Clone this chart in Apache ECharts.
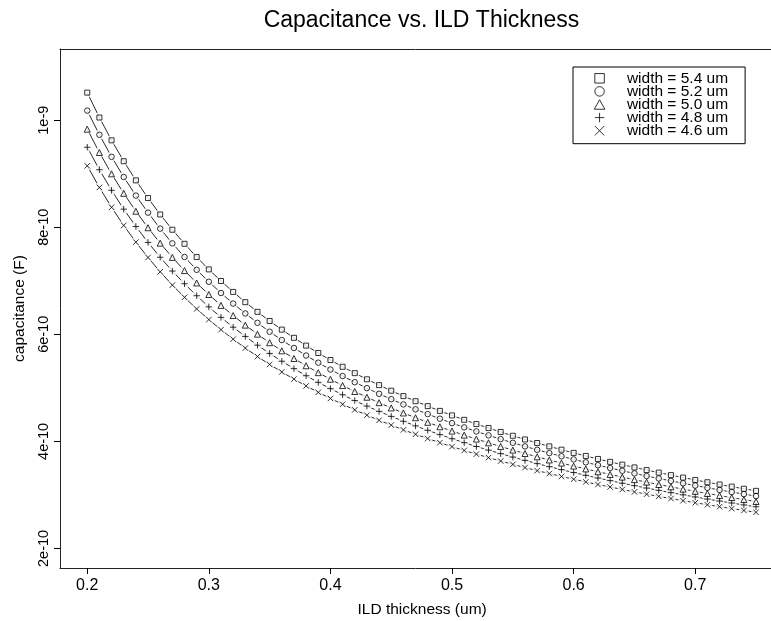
<!DOCTYPE html>
<html><head><meta charset="utf-8">
<script src="https://cdn.jsdelivr.net/npm/echarts@6/dist/echarts.min.js"></script>
<style>html,body{margin:0;padding:0;background:#fff}#c{width:771px;height:621px}</style>
</head><body><div id="c"></div>
<script>
// ILD thickness (um)
const thickness = [0.20,0.21,0.22,0.23,0.24,0.25,0.26,0.27,0.28,0.29,
  0.30,0.31,0.32,0.33,0.34,0.35,0.36,0.37,0.38,0.39,
  0.40,0.41,0.42,0.43,0.44,0.45,0.46,0.47,0.48,0.49,
  0.50,0.51,0.52,0.53,0.54,0.55,0.56,0.57,0.58,0.59,
  0.60,0.61,0.62,0.63,0.64,0.65,0.66,0.67,0.68,0.69,
  0.70,0.71,0.72,0.73,0.74,0.75];
// capacitance, in units of 1e-10 F
const cap54 = [10.515,10.050,9.624,9.234,8.876,8.546,8.239,7.954,7.691,7.443,
  7.213,6.996,6.792,6.601,6.420,6.249,6.088,5.935,5.789,5.651,
  5.520,5.394,5.275,5.160,5.051,4.947,4.846,4.751,4.659,4.570,
  4.485,4.403,4.324,4.249,4.176,4.105,4.036,3.970,3.907,3.845,
  3.785,3.728,3.672,3.618,3.565,3.514,3.464,3.417,3.370,3.324,
  3.280,3.237,3.195,3.155,3.115,3.076];
const cap52 = [10.179,9.728,9.316,8.939,8.592,8.273,7.975,7.699,7.445,7.205,
  6.982,6.772,6.575,6.390,6.215,6.049,5.893,5.745,5.604,5.470,
  5.343,5.221,5.106,4.995,4.889,4.789,4.691,4.599,4.510,4.424,
  4.341,4.262,4.186,4.113,4.042,3.974,3.907,3.843,3.782,3.722,
  3.664,3.609,3.555,3.502,3.451,3.402,3.353,3.308,3.262,3.218,
  3.175,3.133,3.093,3.054,3.015,2.978];
const cap50 = [9.832,9.397,8.998,8.634,8.299,7.991,7.703,7.437,7.191,6.959,
  6.744,6.541,6.351,6.172,6.003,5.843,5.692,5.549,5.413,5.284,
  5.161,5.043,4.932,4.825,4.723,4.625,4.531,4.442,4.356,4.273,
  4.193,4.117,4.043,3.973,3.905,3.838,3.774,3.712,3.653,3.595,
  3.539,3.486,3.433,3.383,3.333,3.286,3.239,3.195,3.151,3.108,
  3.067,3.027,2.987,2.950,2.913,2.876];
const cap48 = [9.495,9.075,8.690,8.338,8.015,7.717,7.440,7.182,6.945,6.721,
  6.513,6.317,6.133,5.961,5.797,5.643,5.497,5.359,5.227,5.103,
  4.985,4.871,4.763,4.659,4.561,4.467,4.376,4.290,4.207,4.127,
  4.050,3.976,3.905,3.837,3.771,3.707,3.645,3.585,3.528,3.472,
  3.418,3.366,3.316,3.267,3.219,3.173,3.128,3.086,3.043,3.002,
  2.962,2.923,2.885,2.849,2.813,2.778];
const cap46 = [9.148,8.744,8.373,8.034,7.722,7.435,7.168,6.920,6.691,6.475,
  6.275,6.087,5.909,5.743,5.585,5.437,5.297,5.163,5.036,4.916,
  4.802,4.693,4.589,4.489,4.394,4.304,4.216,4.133,4.053,3.976,
  3.902,3.831,3.762,3.697,3.633,3.571,3.511,3.454,3.399,3.345,
  3.293,3.243,3.195,3.148,3.102,3.057,3.014,2.973,2.932,2.892,
  2.854,2.816,2.780,2.745,2.710,2.676];
const seriesNames = ['width = 5.4 um','width = 5.2 um','width = 5.0 um','width = 4.8 um','width = 4.6 um'];
const xTickValues = [0.2,0.3,0.4,0.5,0.6,0.7];
const xTickLabels = ['0.2','0.3','0.4','0.5','0.6','0.7'];
const yTickValues = [2,4,6,8,10];
const yTickLabels = ['2e-10','4e-10','6e-10','8e-10','1e-9'];

const SYMBOLS = [
  'path://M0,0L10,0L10,10L0,10Z',
  'path://M0,5A5,5,0,1,1,10,5A5,5,0,1,1,0,5Z',
  'path://M5,0L10,9L0,9Z',
  'path://M5,0L5,10M0,5L10,5',
  'path://M0,0L10,10M10,0L0,10'
];
const SIZES = [5, 5.5, 6, 6.5, 5.5];
const FONT = "'Liberation Sans', Arial, Helvetica, sans-serif";
const capSeries = [cap54, cap52, cap50, cap48, cap46];

const series = [];
capSeries.forEach((vals, i) => {
  const data = thickness.map((t, j) => [t, vals[j]]);
  series.push({type:'line', name:'line'+i, data, symbol:'none', silent:true, z:1,
    lineStyle:{color:'#111', width:0.9}});
  series.push({type:'scatter', name:'halo'+i, data, symbol:'circle', symbolSize:10, silent:true, z:2,
    itemStyle:{color:'#fff'}});
  series.push({type:'scatter', name:seriesNames[i], data, symbol:SYMBOLS[i], symbolSize:SIZES[i], z:3,
    itemStyle:{color:'rgba(0,0,0,0)', borderColor:'#000', borderWidth:1}});
});

const X_MIN = 0.1776, X_MAX = 0.7623;
const axisLineStyle = {show:true, lineStyle:{color:'#222', width:1}};
const chart = echarts.init(document.getElementById('c'));
chart.setOption({
  animation:false,
  backgroundColor:'#fff',
  textStyle:{fontFamily:FONT},
  title:{text:'Capacitance vs. ILD Thickness', left:421.5, top:9, padding:0, textAlign:'center',
    textStyle:{fontFamily:FONT, fontWeight:'normal', fontSize:23, color:'#000'}},
  grid:{left:60, right:0, top:49, bottom:53, show:false, containLabel:false},
  legend:{
    data: seriesNames.map((n,i)=>({name:n, icon:SYMBOLS[i]})),
    orient:'vertical', left:573, top:67, itemWidth:44.6, itemHeight:9.5, itemGap:-2.9,
    padding:[3.3,17,5,20.8], borderColor:'#000', borderWidth:1, borderRadius:0,
    selectedMode:false,
    itemStyle:{color:'rgba(0,0,0,0)', borderColor:'#000', borderWidth:1},
    textStyle:{fontFamily:FONT, fontSize:15.5, color:'#000', lineHeight:13}
  },
  xAxis:[{type:'value', min:X_MIN, max:X_MAX,
    axisLine:axisLineStyle, splitLine:{show:false},
    axisTick:{show:true, length:6, customValues:xTickValues, lineStyle:{color:'#000'}},
    axisLabel:{customValues:xTickValues, margin:10, fontSize:16, color:'#000', fontFamily:FONT,
      formatter:(v)=>{const k=xTickValues.findIndex(x=>Math.abs(x-v)<1e-9);return k>=0?xTickLabels[k]:'';}}
  },{type:'value', position:'top', min:X_MIN, max:X_MAX,
    axisLine:axisLineStyle, axisTick:{show:false}, axisLabel:{show:false}, splitLine:{show:false}}],
  yAxis:{type:'value', min:1.635, max:11.33,
    name:'capacitance (F)', nameLocation:'middle', nameGap:26, nameRotate:90,
    nameTextStyle:{fontFamily:FONT, fontSize:15.5, color:'#000'},
    axisLine:axisLineStyle, splitLine:{show:false},
    axisTick:{show:true, length:6, customValues:yTickValues, lineStyle:{color:'#000'}},
    axisLabel:{customValues:yTickValues, rotate:90, margin:9, fontSize:14.5, color:'#000', fontFamily:FONT,
      formatter:(v)=>{const k=yTickValues.findIndex(x=>Math.abs(x-v)<1e-9);return k>=0?yTickLabels[k]:'';}}
  },
  graphic:[{type:'text', left:421.5 - 64, top:602,
    style:{text:'ILD thickness (um)', font:"15.5px 'Liberation Sans', Arial, sans-serif", fill:'#000', textAlign:'left'}}],
  series
});
</script></body></html>
